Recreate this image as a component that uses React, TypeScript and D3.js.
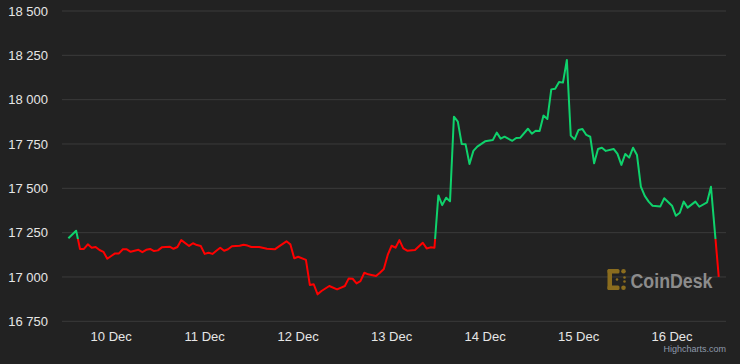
import React from 'react';
import * as d3 from 'd3';

// hourly BTC price, hours counted from 10 Dec 2022 00:00 UTC
const hours = [
  -11, -9, -8, -7, -6, -5, -4, -3, -2, -1, 0, 1, 2, 3, 4, 5, 7, 8, 9, 10, 11, 12, 13, 15, 16, 17, 18, 20, 21, 22, 23,
  24, 25, 26, 27, 28, 29, 30, 31, 33, 34, 35, 36, 38, 40, 42, 43, 45, 46, 47,
  48, 50, 51, 52, 53, 54, 56, 58, 60, 61, 62, 63, 64, 65, 66, 68, 69, 70, 71,
  72, 73, 74, 75, 76, 78, 80, 81, 82, 83, 84, 85, 86, 87, 88, 89, 90, 91, 92, 93, 94, 96, 98, 99, 100, 101, 103, 104, 105, 107, 108, 109, 110, 111, 112, 113, 114, 115, 116, 117, 118, 119,
  120, 121, 122, 123, 124, 125, 126, 127, 129, 130, 131, 132, 133, 134, 135, 136, 137, 138, 139, 141, 142,
  144, 145, 146, 147, 148, 150, 151, 153, 154, 156,
];
const prices = [
  17218, 17261, 17158, 17158, 17184, 17165, 17169, 17152, 17142, 17103, 17118, 17133, 17133, 17156, 17156, 17142, 17153, 17140, 17153, 17158, 17146, 17150, 17167, 17171, 17159, 17169, 17208, 17175, 17190, 17180, 17175,
  17130, 17137, 17130, 17148, 17165, 17148, 17156, 17173, 17176, 17182, 17177, 17169, 17169, 17159, 17156, 17171, 17201, 17184, 17105,
  17114, 17096, 16955, 16959, 16902, 16921, 16949, 16930, 16949, 16992, 16990, 16964, 16977, 17024, 17015, 17005, 17024, 17045, 17124,
  17176, 17165, 17208, 17161, 17148, 17152, 17193, 17161, 17167, 17165, 17460, 17405, 17447, 17427, 17904, 17876, 17750, 17748, 17637, 17711, 17735, 17765, 17772, 17814, 17780, 17791, 17768, 17784, 17785, 17836, 17808, 17825, 17823, 17910, 17891, 18058, 18062, 18100, 18096, 18224, 17797, 17776,
  17829, 17834, 17801, 17791, 17641, 17722, 17729, 17711, 17722, 17694, 17632, 17694, 17673, 17729, 17688, 17509, 17457, 17425, 17402, 17398, 17444,
  17402, 17345, 17362, 17425, 17391, 17425, 17396, 17421, 17509, 17001,
];
const yTicks = [16750, 17000, 17250, 17500, 17750, 18000, 18250, 18500];
const threshold = 17214;

const W = 740;
const H = 364;
const left = 62;
const right = 726;
const top = 11;
const bottom = 321.3;

const base = Date.UTC(2022, 11, 10);
const toDate = (h: number) => new Date(base + h * 3600e3);

const fmtNum = d3.formatLocale({ decimal: '.', thousands: ' ', grouping: [3], currency: ['', ''] }).format(',');
const fmtDay = d3.utcFormat('%-d %b');

export default function App() {
  const data = hours.map((h, i) => ({ t: toDate(h), v: prices[i] }));

  const x = d3
    .scaleUtc()
    .domain([toDate(hours[0] - 1.63), toDate(hours[hours.length - 1] + 1.86)])
    .range([left, right]);
  const y = d3.scaleLinear().domain([yTicks[0], yTicks[yTicks.length - 1]]).range([bottom, top]);

  const line = d3
    .line<{ t: Date; v: number }>()
    .x((d) => x(d.t))
    .y((d) => y(d.v));
  const d = line(data) || '';
  const ty = y(threshold);
  const days = d3.utcDay.range(x.domain()[0], x.domain()[1]).filter((t) => +t > +x.domain()[0]);

  const font = '"Liberation Sans", Arial, Helvetica, sans-serif';

  return (
    <svg width={W} height={H} style={{ position: 'absolute', left: 0, top: 0, background: '#222222' }} fontFamily={font}>
      <defs>
        <clipPath id="above">
          <rect x={0} y={0} width={W} height={ty} />
        </clipPath>
        <clipPath id="below">
          <rect x={0} y={ty} width={W} height={H - ty} />
        </clipPath>
      </defs>
      <rect width={W} height={H} fill="#222222" />

      {yTicks.map((t) => (
        <g key={t}>
          <line x1={left} x2={right} y1={y(t)} y2={y(t)} stroke="#3b3b3b" strokeWidth={1} />
          <text x={48} y={y(t) + 4.6} textAnchor="end" fontSize={13} fill="#e6e6e6">
            {fmtNum(t)}
          </text>
        </g>
      ))}

      {days.map((t) => (
        <text key={+t} x={x(t)} y={340.5} textAnchor="middle" fontSize={13} fill="#e6e6e6">
          {fmtDay(t)}
        </text>
      ))}

      {/* CoinDesk watermark */}
      <g fill="#8a6c1e">
        <rect x={607.5} y={269} width={4.5} height={21} rx={1.5} />
        <rect x={607.5} y={269} width={12} height={4.5} rx={1.5} />
        <rect x={607.5} y={285.5} width={12} height={4.5} rx={1.5} />
        <circle cx={623.5} cy={271.2} r={2.3} />
        <circle cx={623.5} cy={287.8} r={2.3} />
        <circle cx={624.5} cy={277.5} r={1.3} />
        <circle cx={624.5} cy={281.5} r={1.3} />
        <circle cx={617} cy={279.5} r={1.3} />
      </g>
      <text x={630.5} y={287.5} fontSize={20} fontWeight="bold" fill="#8c8c8c" textLength={82} lengthAdjust="spacingAndGlyphs">
        CoinDesk
      </text>

      <path d={d} fill="none" stroke="#0fd26c" strokeWidth={2} strokeLinejoin="round" clipPath="url(#above)" />
      <path d={d} fill="none" stroke="#ff0000" strokeWidth={2} strokeLinejoin="round" clipPath="url(#below)" />

      <text x={726} y={352} textAnchor="end" fontSize={9} fill="#8e9aab">
        Highcharts.com
      </text>
    </svg>
  );
}
